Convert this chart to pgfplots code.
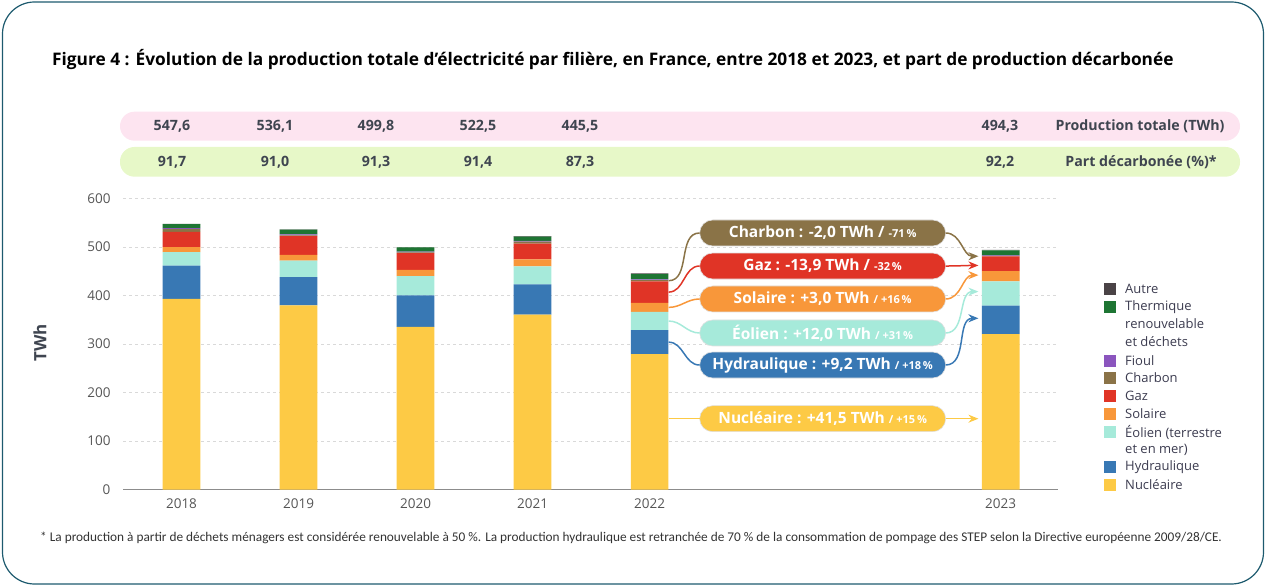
\documentclass[border=0pt]{standalone}
\usepackage{pgfplots}
\usepackage{pgfplotstable}
\pgfplotsset{compat=1.18}
\usepackage{fontspec}
\setmainfont{Open Sans}
\newfontfamily\footfont{Carlito}
\usetikzlibrary{arrows.meta}
\definecolor{cNuc}{HTML}{FDCA45}
\definecolor{cHyd}{HTML}{3878B4}
\definecolor{cEol}{HTML}{A6EADA}
\definecolor{cSol}{HTML}{F8973A}
\definecolor{cGaz}{HTML}{E03426}
\definecolor{cCha}{HTML}{8A7347}
\definecolor{cFio}{HTML}{8B55BE}
\definecolor{cThe}{HTML}{1E7533}
\definecolor{cAut}{HTML}{4A4346}
\definecolor{cFrame}{HTML}{1D5A6E}
\definecolor{cPink}{HTML}{FDE4F0}
\definecolor{cGreen}{HTML}{E7F8C8}
\definecolor{cRowTxt}{HTML}{3F4550}
\definecolor{cTick}{HTML}{555555}
\definecolor{cLeg}{HTML}{3B3B4F}

\pgfplotstableread{
x nuc hyd eol sol gaz cha fio the aut
0 393.2 68.4 28.1 10.2 31.5 5.8 1.9 7.9 0.6
1 379.5 58.5 34.1 11.6 38.6 1.6 2.3 9.4 0.5
2 335.4 65.1 39.7 12.6 34.5 1.4 1.6 8.9 0.6
3 360.7 62.5 36.8 14.3 32.9 3.8 1.4 9.1 1.0
4 279.0 49.6 37.6 18.6 44.1 2.8 1.6 10.8 1.4
7 320.5 58.8 49.6 21.6 30.2 0.8 1.2 10.6 1.0
}\data

\begin{document}
\begin{tikzpicture}[x=1pt,y=1pt]
% frame
\draw[cFrame, line width=1.2pt, rounded corners=32pt] (2.5,3) rectangle (1263.5,585);
% title
\node[anchor=west, inner sep=0pt] at (52,527) {\bfseries\fontsize{17.3}{20}\selectfont Figure 4 : Évolution de la production totale d’électricité par filière, en France, entre 2018 et 2023, et part de production décarbonée};
% rows
\fill[cPink, rounded corners=14.5pt] (120,446.3) rectangle (1240,475.3);
\fill[cGreen, rounded corners=14.5pt] (120,410.3) rectangle (1240,440);
\begin{scope}[every node/.style={text=cRowTxt, font=\bfseries\fontsize{14.2}{16}\selectfont, inner sep=0pt}]
\node at (172,461) {547,6};
\node at (275,461) {536,1};
\node at (376,461) {499,8};
\node at (478,461) {522,5};
\node at (580,461) {445,5};
\node at (1000,461) {494,3};
\node at (1140,461) {Production totale (TWh)};
\node at (172,425) {91,7};
\node at (275,425) {91,0};
\node at (376,425) {91,3};
\node at (478,425) {91,4};
\node at (580,425) {87,3};
\node at (1000,425) {92,2};
\node at (1141,425) {Part décarbonée (\%)*};
\end{scope}
% y label
\node[rotate=90, text=cRowTxt, inner sep=0pt] at (40,244) {\bfseries\fontsize{17}{20}\selectfont TWh};

\begin{axis}[
  at={(123pt,97.5pt)}, anchor=south west,
  scale only axis, width=935pt, height=291pt,
  xmin=-0.5, xmax=7.49, ymin=0, ymax=600,
  clip=false,
  ybar stacked, bar width=37.7pt,
  xtick={0,1,2,3,4,7}, xticklabels={2018,2019,2020,2021,2022,2023},
  ytick={0,100,200,300,400,500,600},
  axis x line*=bottom, axis y line*=left,
  y axis line style={draw=none},
  x axis line style={draw=black!45, line width=1.6pt, -},
  major tick length=0pt,
  ymajorgrids, grid style={dashed, black!15, line width=0.9pt},
  /pgf/number format/assume math mode=true,
  ticklabel style={text=cTick, font=\fontsize{13.5}{16}\selectfont},
  xticklabel style={yshift=-6pt},
  yticklabel style={xshift=-9pt},
]
\addplot[draw=none, fill=cNuc] table[x=x, y=nuc] {\data};
\addplot[draw=none, fill=cHyd] table[x=x, y=hyd] {\data};
\addplot[draw=none, fill=cEol] table[x=x, y=eol] {\data};
\addplot[draw=none, fill=cSol] table[x=x, y=sol] {\data};
\addplot[draw=none, fill=cGaz] table[x=x, y=gaz] {\data};
\addplot[draw=none, fill=cCha] table[x=x, y=cha] {\data};
\addplot[draw=none, fill=cFio] table[x=x, y=fio] {\data};
\addplot[draw=none, fill=cThe] table[x=x, y=the] {\data};
\addplot[draw=none, fill=cAut] table[x=x, y=aut] {\data};

\def\bx{5.479}
\tikzset{ann/.style={rounded corners=13pt, minimum width=246pt, minimum height=26pt, inner sep=0pt, text=white, draw=black!12, line width=0.6pt, font=\bfseries\fontsize{15.5}{18}\selectfont},
 conn/.style={line width=1.5pt}, arr/.style={line width=1.5pt, -{Stealth[length=10pt,width=8pt]}}}
% Charbon
\draw[conn, cCha] (axis cs:4.1625,430.5) to[out=0,in=180] (axis cs:4.427,528.9);
\draw[arr, cCha] (axis cs:6.530,528.9) to[out=0,in=180] (axis cs:6.81,481);
\node[ann, fill=cCha] at (axis cs:\bx,528.9) {Charbon : -2,0 TWh / {\fontsize{11}{12}\selectfont -71\,\%}};
% Gaz
\draw[conn, cGaz] (axis cs:4.1625,407) to[out=0,in=180] (axis cs:4.427,460.8);
\draw[arr, cGaz] (axis cs:6.530,460.8) to[out=0,in=180] (axis cs:6.81,462);
\node[ann, fill=cGaz] at (axis cs:\bx,460.8) {Gaz : -13,9 TWh / {\fontsize{11}{12}\selectfont -32\,\%}};
% Solaire
\draw[conn, cSol] (axis cs:4.1625,375.5) to[out=0,in=180] (axis cs:4.427,392.8);
\draw[arr, cSol] (axis cs:6.530,392.8) to[out=0,in=180] (axis cs:6.81,442);
\node[ann, fill=cSol] at (axis cs:\bx,392.8) {Solaire : +3,0 TWh {\fontsize{11}{12}\selectfont / +16\,\%}};
% Eolien
\draw[conn, cEol] (axis cs:4.1625,347.4) to[out=0,in=180] (axis cs:4.427,322.7);
\draw[arr, cEol] (axis cs:6.530,322.7) to[out=0,in=180] (axis cs:6.81,408);
\node[ann, fill=cEol] at (axis cs:\bx,322.7) {Éolien : +12,0 TWh {\fontsize{11}{12}\selectfont / +31\,\%}};
% Hydraulique
\draw[conn, cHyd] (axis cs:4.1625,303.8) to[out=0,in=180] (axis cs:4.427,256.7);
\draw[arr, cHyd] (axis cs:6.530,256.7) to[out=0,in=180] (axis cs:6.81,353);
\node[ann, fill=cHyd] at (axis cs:\bx,256.7) {Hydraulique : +9,2 TWh {\fontsize{11}{12}\selectfont / +18\,\%}};
% Nucleaire
\draw[conn, cNuc] (axis cs:4.1625,146) -- (axis cs:4.427,146);
\draw[arr, cNuc] (axis cs:6.530,146) -- (axis cs:6.81,146);
\node[ann, fill=cNuc] at (axis cs:\bx,146) {Nucléaire : +41,5 TWh {\fontsize{11}{12}\selectfont / +15\,\%}};
\end{axis}

% legend
\begin{scope}[every node/.style={anchor=west, inner sep=0pt, text=cLeg, font=\fontsize{13}{16}\selectfont}]
\fill[cAut] (1104,291.7) rectangle ++(12,12); \node at (1125,297.7) {Autre};
\fill[cThe] (1104,274.3) rectangle ++(12,12); \node at (1125,280.3) {Thermique};
\node at (1125,263) {renouvelable}; \node at (1125,245) {et déchets};
\fill[cFio] (1104,220.3) rectangle ++(12,12); \node at (1125,226.3) {Fioul};
\fill[cCha] (1104,203) rectangle ++(12,12); \node at (1125,209) {Charbon};
\fill[cGaz] (1104,185) rectangle ++(12,12); \node at (1125,191) {Gaz};
\fill[cSol] (1104,167) rectangle ++(12,12); \node at (1125,173) {Solaire};
\fill[cEol] (1104,149) rectangle ++(12,12); \node at (1125,155) {Éolien (terrestre};
\node at (1125,137) {et en mer)};
\fill[cHyd] (1104,114) rectangle ++(12,12); \node at (1125,120) {Hydraulique};
\fill[cNuc] (1104,96) rectangle ++(12,12); \node at (1125,102) {Nucléaire};
\end{scope}
% footnote
\node[anchor=west, inner sep=0pt, text=black!80] at (40,49) {\footfont\fontsize{13.3}{15}\selectfont * La production à partir de déchets ménagers est considérée renouvelable à 50 \%. La production hydraulique est retranchée de 70 \% de la consommation de pompage des STEP selon la Directive européenne 2009/28/CE.};

\pgfresetboundingbox
\path[use as bounding box] (0,0) rectangle (1267,587);
\end{tikzpicture}
\end{document}
